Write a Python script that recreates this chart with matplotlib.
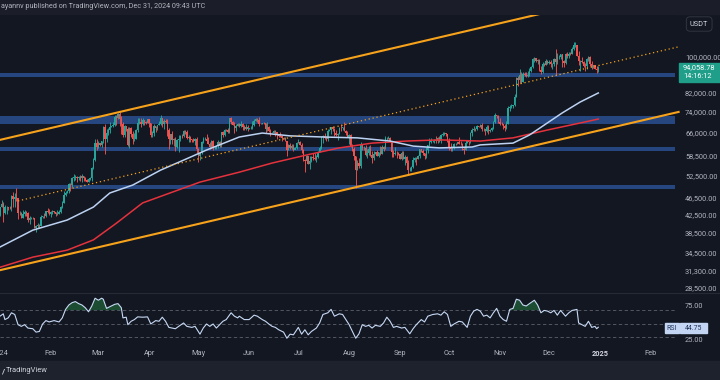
import numpy as np
import pandas as pd
import matplotlib
matplotlib.use('Agg')
import matplotlib.pyplot as plt
from matplotlib.patches import Rectangle
from matplotlib.lines import Line2D

plt.rcParams['font.family'] = ['Roboto', 'DejaVu Sans']

# BTC/USDT daily candles, 2024-01-01 .. 2024-12-31, thousands of USDT
first_open = 42.28
closes = [
    44.18, 44.94, 42.85, 44.15, 44.16, 43.97, 43.93, 46.94, 46.12, 46.63, 46.34, 42.78, 42.84, 41.73, 42.51, 43.15, 42.74, 41.26, 41.62, 41.66, 41.55, 39.51, 39.85, 40.08, 39.93, 41.82, 42.12, 42.03, 43.30, 42.94, 42.58,
    43.08, 43.19, 43.00, 42.58, 42.66, 43.08, 44.33, 45.29, 47.13, 47.75, 48.29, 49.96, 49.70, 51.79, 51.91, 52.13, 51.66, 52.12, 51.78, 52.26, 51.85, 51.30, 50.73, 51.57, 51.73, 54.48, 57.04, 62.43, 61.13,
    62.39, 62.03, 63.17, 68.33, 63.80, 66.11, 66.93, 68.30, 68.50, 69.02, 72.12, 71.48, 73.08, 71.40, 69.50, 65.30, 68.39, 67.61, 61.94, 67.84, 65.50, 63.80, 64.04, 67.21, 69.88, 69.99, 69.46, 70.78, 69.90, 69.65, 71.33,
    69.70, 65.46, 65.96, 68.49, 67.82, 68.90, 69.36, 71.62, 69.15, 70.62, 70.01, 67.12, 63.92, 65.66, 63.42, 63.81, 61.28, 63.51, 63.84, 64.99, 64.93, 66.84, 66.41, 64.28, 64.50, 63.77, 63.46, 63.12, 63.84, 60.64,
    58.25, 59.12, 62.89, 63.89, 64.03, 63.16, 62.33, 61.19, 63.07, 60.79, 60.83, 61.45, 62.94, 61.58, 66.27, 65.23, 67.05, 66.94, 66.28, 71.45, 70.14, 69.12, 67.93, 68.53, 69.28, 68.51, 69.39, 68.37, 67.64, 68.35, 67.49,
    67.76, 67.82, 68.80, 70.57, 71.08, 70.76, 69.34, 69.31, 69.65, 69.51, 67.32, 68.24, 66.76, 66.01, 66.19, 66.64, 66.49, 65.15, 64.96, 64.83, 64.10, 64.25, 63.18, 60.28, 61.81, 60.86, 61.68, 60.32, 60.89, 62.68,
    62.77, 62.02, 60.20, 57.04, 56.64, 58.23, 55.85, 56.71, 58.05, 57.72, 57.34, 57.88, 59.20, 60.80, 64.72, 65.04, 64.09, 63.97, 66.68, 67.14, 68.17, 67.55, 65.93, 65.37, 65.78, 67.91, 67.81, 68.25, 66.78, 66.19, 64.62,
    65.35, 61.50, 60.70, 58.16, 54.02, 56.04, 55.13, 61.70, 60.88, 60.95, 58.72, 59.35, 60.61, 58.74, 57.56, 58.87, 59.49, 58.43, 59.49, 59.01, 61.16, 60.38, 64.09, 64.18, 64.25, 62.83, 59.42, 59.03, 59.38, 59.12, 58.97,
    57.33, 59.13, 57.49, 57.97, 56.16, 53.96, 54.16, 54.87, 57.05, 57.64, 57.34, 58.13, 60.57, 60.00, 59.18, 58.19, 60.31, 61.76, 62.95, 63.20, 63.35, 63.58, 63.34, 64.26, 63.15, 65.17, 65.77, 65.87, 65.60, 63.33,
    60.80, 60.65, 60.75, 62.08, 62.05, 62.82, 62.22, 62.13, 60.58, 60.27, 62.45, 63.19, 62.85, 66.08, 67.04, 67.61, 67.38, 68.39, 68.36, 69.00, 67.37, 67.38, 66.68, 68.16, 66.64, 67.01, 67.93, 69.91, 72.73, 72.34, 70.22,
    69.50, 69.36, 68.73, 67.81, 69.36, 75.64, 75.90, 76.54, 76.68, 80.37, 88.70, 87.96, 90.59, 87.25, 91.07, 90.56, 89.85, 90.46, 92.31, 94.29, 98.32, 98.89, 97.67, 97.90, 93.01, 91.97, 95.95, 95.64, 97.46, 96.41,
    97.19, 95.87, 96.00, 98.77, 96.95, 99.74, 99.83, 101.11, 97.40, 96.59, 101.13, 100.00, 101.42, 101.37, 104.30, 106.06, 106.14, 100.20, 97.46, 97.76, 97.22, 95.10, 94.69, 98.68, 99.43, 95.80, 94.16, 95.16, 93.53, 92.64, 94.06,
]
highs = [
    44.18, 45.88, 45.50, 44.77, 44.34, 44.23, 44.49, 47.25, 47.90, 47.70, 48.97, 46.52, 43.26, 43.07, 43.40, 43.58, 43.20, 42.93, 42.20, 41.87, 41.89, 41.69, 40.13, 40.56, 40.28, 42.23, 42.20, 42.84, 43.31, 43.88, 43.74,
    43.29, 43.48, 43.38, 43.12, 43.49, 43.42, 44.38, 45.60, 48.20, 48.17, 48.59, 50.33, 50.37, 52.02, 52.82, 52.57, 52.20, 52.35, 52.48, 52.98, 52.37, 52.01, 51.55, 51.68, 51.95, 54.90, 57.59, 63.91, 63.75,
    63.23, 62.43, 63.23, 68.50, 69.17, 67.64, 67.99, 69.94, 68.60, 70.00, 72.91, 72.97, 73.65, 73.78, 72.36, 70.00, 68.92, 68.12, 68.11, 68.03, 68.24, 66.65, 65.99, 67.62, 71.73, 71.56, 71.74, 71.60, 70.92, 70.35, 71.38,
    71.29, 69.70, 66.90, 69.29, 68.73, 69.00, 70.29, 72.80, 71.76, 71.17, 71.23, 71.23, 67.93, 65.82, 66.87, 64.36, 64.48, 64.07, 65.45, 65.39, 65.70, 67.21, 67.20, 67.07, 65.27, 64.79, 63.92, 64.33, 64.22, 64.73,
    60.87, 59.60, 63.32, 64.49, 64.65, 65.50, 64.43, 62.99, 63.43, 63.47, 61.49, 61.82, 63.45, 63.12, 66.44, 66.70, 67.44, 67.40, 67.69, 71.52, 71.98, 70.62, 70.04, 69.22, 69.57, 69.56, 70.60, 69.56, 68.90, 69.50, 69.00,
    67.90, 68.44, 70.27, 71.06, 71.76, 71.63, 71.99, 69.56, 69.86, 70.20, 69.55, 70.00, 68.44, 67.30, 66.46, 66.99, 67.25, 66.48, 65.72, 66.48, 65.07, 64.53, 64.52, 63.37, 62.35, 62.48, 62.29, 62.20, 61.20, 63.00,
    63.80, 63.29, 62.50, 60.48, 57.50, 58.47, 58.24, 58.28, 58.30, 59.38, 59.35, 58.59, 59.83, 61.42, 64.88, 65.39, 66.11, 65.09, 67.39, 67.60, 68.36, 68.48, 67.80, 67.08, 66.11, 68.26, 69.40, 68.32, 70.08, 66.95, 66.81,
    65.59, 65.59, 62.19, 61.12, 58.29, 57.08, 57.80, 62.73, 61.75, 61.47, 61.86, 60.70, 61.58, 61.80, 59.85, 59.85, 59.69, 60.27, 59.62, 61.40, 61.83, 61.40, 64.95, 64.51, 65.00, 64.48, 63.21, 60.23, 61.17, 59.90, 59.46,
    59.05, 59.81, 59.82, 58.51, 58.32, 56.99, 54.85, 55.30, 58.04, 58.04, 57.99, 58.60, 60.65, 60.63, 60.38, 59.21, 61.32, 62.00, 64.13, 64.10, 63.56, 64.00, 64.80, 64.69, 64.82, 65.83, 66.50, 66.26, 66.08, 65.55,
    64.13, 62.39, 61.47, 62.47, 62.37, 63.00, 64.48, 63.17, 62.54, 61.32, 63.42, 63.48, 63.28, 66.50, 67.95, 68.42, 68.00, 68.97, 68.67, 69.40, 69.52, 67.84, 67.46, 68.85, 68.78, 67.45, 68.30, 70.27, 73.62, 72.93, 72.70,
    71.63, 69.93, 69.39, 69.49, 70.58, 76.40, 76.85, 77.20, 76.95, 81.50, 89.53, 89.96, 93.27, 91.77, 91.87, 91.78, 91.68, 92.59, 94.00, 94.90, 99.07, 99.59, 99.00, 98.72, 98.56, 94.82, 97.23, 96.65, 98.70, 97.80,
    97.90, 98.15, 96.56, 99.00, 103.90, 102.04, 100.55, 101.39, 101.23, 98.27, 101.89, 102.54, 102.65, 102.65, 105.25, 107.79, 108.35, 106.47, 102.80, 98.00, 99.54, 97.40, 96.42, 99.02, 99.96, 99.96, 97.29, 95.53, 95.20, 94.90, 94.70,
]
lows = [
    42.18, 44.15, 40.75, 42.63, 42.50, 43.40, 43.77, 43.20, 44.30, 44.30, 45.60, 41.50, 42.43, 41.72, 41.72, 42.05, 42.20, 40.68, 40.28, 41.43, 41.45, 39.44, 38.55, 39.49, 39.50, 39.82, 41.72, 41.62, 41.80, 42.70, 42.28,
    41.88, 42.57, 42.88, 42.22, 42.26, 42.57, 42.79, 44.03, 45.26, 46.82, 47.72, 47.72, 48.30, 49.26, 50.95, 51.29, 50.63, 51.16, 51.00, 50.62, 50.91, 50.88, 50.52, 50.60, 51.28, 50.90, 54.45, 56.70, 60.36,
    60.78, 61.58, 61.32, 62.39, 59.00, 62.88, 65.48, 66.10, 68.04, 68.28, 68.61, 68.77, 71.33, 68.56, 65.63, 64.55, 64.53, 66.60, 61.50, 60.78, 64.53, 62.26, 63.05, 63.79, 66.39, 69.24, 68.38, 68.90, 69.10, 69.33, 69.56,
    68.24, 64.49, 64.49, 65.07, 66.50, 67.25, 68.83, 69.04, 68.21, 67.52, 69.57, 65.09, 60.66, 62.26, 62.30, 61.64, 59.77, 60.80, 59.60, 63.10, 64.24, 64.50, 65.80, 63.88, 62.80, 63.00, 62.79, 62.80, 61.81, 59.19,
    56.55, 56.94, 58.81, 62.59, 63.45, 62.85, 62.25, 60.65, 60.89, 60.18, 60.49, 60.63, 60.76, 61.15, 61.32, 64.60, 65.10, 66.60, 65.85, 66.10, 69.16, 68.83, 66.10, 66.60, 68.50, 68.20, 68.23, 67.28, 67.08, 67.12, 66.66,
    67.42, 67.30, 67.61, 68.50, 70.41, 70.13, 68.50, 69.20, 69.15, 69.20, 66.05, 66.90, 66.30, 65.08, 65.89, 66.04, 65.10, 64.06, 64.70, 64.55, 63.38, 63.94, 63.17, 58.40, 60.25, 60.60, 60.63, 60.00, 60.38, 60.60,
    62.45, 61.80, 59.37, 56.77, 53.49, 56.01, 55.73, 54.26, 56.28, 57.17, 56.98, 56.51, 57.73, 59.50, 60.63, 62.43, 63.83, 63.22, 63.30, 66.66, 65.77, 66.57, 65.12, 65.09, 63.45, 65.76, 66.65, 67.03, 66.62, 65.30, 64.50,
    62.30, 61.13, 59.80, 57.12, 49.00, 54.08, 54.55, 54.71, 60.30, 60.26, 58.40, 57.63, 58.46, 58.44, 56.08, 57.10, 58.79, 58.42, 57.85, 58.59, 58.79, 60.03, 60.38, 63.57, 63.78, 62.80, 58.03, 57.86, 58.70, 57.75, 58.75,
    57.20, 57.12, 57.41, 55.61, 55.56, 52.55, 53.74, 53.62, 54.60, 56.38, 55.55, 57.33, 57.63, 59.45, 58.74, 57.49, 57.61, 59.17, 61.67, 62.37, 62.77, 62.37, 62.69, 62.70, 62.96, 62.68, 64.84, 65.43, 65.10, 62.85,
    60.16, 60.00, 59.83, 60.46, 61.70, 62.10, 62.12, 61.84, 60.24, 58.89, 60.07, 62.44, 62.02, 62.42, 64.80, 66.75, 66.71, 67.08, 68.11, 68.16, 66.80, 66.57, 65.26, 66.48, 65.51, 66.50, 66.85, 67.60, 69.73, 71.44, 69.68,
    68.82, 68.80, 67.46, 66.84, 67.46, 69.32, 74.44, 75.56, 75.75, 76.50, 80.28, 85.07, 86.63, 86.67, 87.15, 90.03, 89.40, 89.38, 90.06, 91.76, 94.08, 97.20, 97.12, 95.73, 92.60, 90.79, 91.52, 94.66, 95.45, 95.70,
    95.70, 94.31, 93.58, 94.66, 90.50, 95.70, 98.80, 98.63, 94.15, 94.26, 95.78, 99.31, 99.21, 100.75, 101.23, 103.33, 105.31, 100.00, 95.67, 92.17, 96.40, 94.20, 92.50, 93.40, 97.59, 95.14, 93.50, 94.00, 93.28, 91.38, 92.00,
]

# moving averages (day since 2024-01-01, thousands)
ma100_day = [0, 20, 41, 57, 67, 81, 98, 112, 126, 146, 160, 177, 197, 218, 238, 252, 268, 288, 293, 313, 323, 343, 354, 365]
ma100_val = [35.6, 39.0, 41.2, 44.2, 47.7, 49.8, 54.0, 57.0, 60.2, 64.6, 66.0, 65.0, 64.6, 64.3, 63.2, 61.5, 60.9, 61.2, 61.9, 62.5, 65.3, 73.6, 78.1, 82.0]
ma200_day = [0, 20, 41, 57, 71, 87, 105, 122, 146, 166, 187, 207, 227, 248, 268, 293, 313, 334, 354, 365]
ma200_val = [31.9, 33.7, 35.0, 37.0, 40.5, 45.2, 47.9, 50.6, 53.4, 56.1, 58.6, 60.9, 62.5, 63.2, 63.6, 63.2, 64.3, 67.1, 69.7, 71.2]

# ascending channel
upper_day, upper_val = [0, 412], [63.6, 149.3]
lower_day, lower_val = [0, 414], [31.4, 74.0]
mid_day, mid_val = [11, 414], [45.7, 105.3]

# support / resistance zones (thousands)
zone_lo = [89.4, 69.5, 59.9, 48.8]
zone_hi = [91.5, 72.5, 61.2, 49.8]

# RSI
rsi_day = [0, 2, 3, 5, 7, 9, 11, 13, 15, 17, 20, 22, 24, 26, 28, 30, 33, 36, 38, 40,
           42, 44, 46, 48, 50, 52, 54, 56, 58, 60, 62, 63, 65, 67, 70, 72, 74, 75, 77, 78,
           80, 82, 84, 87, 90, 92, 95, 97, 99, 101, 103, 105, 107, 109, 112, 114, 117, 119, 122, 124,
           126, 128, 130, 132, 134, 136, 138, 141, 143, 145,
           146, 149, 152, 155, 157, 160, 162, 164, 166, 168, 170, 173, 175, 177, 179, 182, 184, 186, 188, 190,
           193, 195, 197, 200, 202, 204, 207, 209, 211, 213, 215, 217, 219, 221, 223, 225, 227, 229, 232, 234,
           236, 238, 240, 242, 245, 247, 250, 252, 254, 257, 259, 261, 264, 267, 269, 271, 273, 275, 277, 280,
           282, 285, 287, 289, 291,
           293, 295, 297, 299, 301, 303, 305, 307, 309, 311, 313, 315, 317, 319, 321, 323, 326, 328, 330, 332,
           334, 336, 338, 340, 342, 345, 347, 349, 352, 353, 355, 357, 359, 361, 363, 364, 365]
rsi_val = [61, 64.5, 56, 58.5, 66, 63.5, 48.5, 46, 48.5, 43.5, 42.5, 37.5, 38.5, 49.5, 54.5, 52.5, 54.5, 52.5, 58.5, 71,
           77.5, 81, 82.5, 79.5, 77.5, 73.5, 67.5, 76, 87.5, 84.5, 87.5, 86, 72.5, 75, 78.5, 79.5, 73.5, 58.5, 59.5, 48.5,
           53.5, 56, 60, 59.5, 60, 49.5, 54.5, 53.5, 59.5, 53.5, 44.5, 43.5, 42.5, 46, 51, 46, 44.5, 46, 34.5, 43.5,
           49.5, 46, 49.5, 43.5, 48.5, 53.5, 56, 66, 61, 58.5,
           61, 56, 56, 62.5, 61, 56, 53.5, 49.5, 46, 44.5, 41, 37.5, 28.5, 34.5, 33.5, 44.5, 34.5, 41, 33.5, 38.5,
           43.5, 51, 63.5, 66, 71, 61, 64.5, 63.5, 56, 48.5, 38.5, 28.5, 35, 48.5, 46, 47.5, 43.5, 47.5, 46, 51,
           59.5, 53.5, 44.5, 46, 43.5, 44.5, 35, 42.5, 48.5, 56, 52.5, 61, 63.5, 64.5, 62.5, 67.5, 63.5, 46, 49.5, 53.5,
           52.5, 44.5, 61, 68.5, 71,
           68.5, 61, 62.5, 58.5, 66, 72.5, 61, 56, 53.5, 71, 72.5, 86, 84.5, 77.5, 76, 79.5, 84.5, 77.5, 66, 69.5,
           68.5, 66, 69.5, 62.5, 69.5, 61, 66, 69.5, 71, 51, 48.5, 46, 53.5, 44.5, 46, 42.5, 44.75]

price_ticks = [100000, 82000, 74000, 66000, 58500, 52500, 46500, 42500, 38500, 34500, 31300, 28500]
month_labels = ['2024', 'Feb', 'Mar', 'Apr', 'May', 'Jun', 'Jul', 'Aug', 'Sep', 'Oct', 'Nov', 'Dec', '2025', 'Feb']

BG = '#131722'
TXT = '#b2b5be'
W, H = 720, 380


def box(x0, y0, x1, y1):
    return [x0 / W, 1 - y1 / H, (x1 - x0) / W, (y1 - y0) / H]


def fx(x):
    return x / W


def fy(y):
    return 1 - y / H


fig = plt.figure(figsize=(7.2, 3.8), dpi=100, facecolor=BG)

# header and footer strips
fig.add_artist(Rectangle((0, fy(14)), 1, 14 / H, transform=fig.transFigure, color='#1b1e28', zorder=0))
fig.add_artist(Rectangle((0, 0), 1, 19 / H, transform=fig.transFigure, color='#1e222d', zorder=0))
fig.text(fx(1), fy(7), 'ayannv published on TradingView.com, Dec 31, 2024 09:43 UTC',
         fontsize=5.2, color=TXT, va='center', ha='left')
fig.text(fx(1), fy(371), '/', fontsize=6, color='#d1d4dc', va='center', weight='bold')
fig.text(fx(6), fy(371), 'TradingView', fontsize=5.4, color='#d1d4dc', va='center')

ax = fig.add_axes(box(0, 15, 675, 292))
ax2 = fig.add_axes(box(0, 294, 675, 344), sharex=ax)
for a in (ax, ax2):
    a.set_facecolor(BG)
    for s in a.spines.values():
        s.set_visible(False)

fig.add_artist(Line2D([0, 1], [fy(293), fy(293)], transform=fig.transFigure, color='#262a36', lw=0.8))

# ---- price pane
c = np.array(closes) * 1000
o = np.array([first_open] + closes[:-1]) * 1000
hi = np.array(highs) * 1000
lo = np.array(lows) * 1000
days = np.arange(len(c))
col = np.where(c >= o, '#26a69a', '#ef5350')

for zl, zh in zip(zone_lo, zone_hi):
    ax.axhspan(zl * 1000, zh * 1000, color='#26467f', lw=0, zorder=1)

ax.vlines(days, lo, hi, colors=col, lw=0.65, zorder=3)
ax.bar(days, np.abs(c - o), bottom=np.minimum(o, c), width=0.82, color=col, lw=0, zorder=3)

ax.plot(ma200_day, np.array(ma200_val) * 1000, color='#e5323c', lw=1.1, zorder=4)
ax.plot(ma100_day, np.array(ma100_val) * 1000, color='#bcd2f2', lw=1.1, zorder=4)

ax.plot(upper_day, np.array(upper_val) * 1000, color='#f7a21b', lw=1.5, zorder=5)
ax.plot(lower_day, np.array(lower_val) * 1000, color='#f7a21b', lw=1.5, zorder=5, clip_on=False)
ax.plot(mid_day, np.array(mid_val) * 1000, color='#f7a21b', lw=0.9, ls=(0, (1, 2.2)), zorder=5, clip_on=False)

ax.set_yscale('log')
ax.set_ylim(27900, 125100)
ax.set_xlim(0, 411.8)
ax.set_yticks(price_ticks)
ax.set_yticks([], minor=True)
ax.set_yticklabels([f'{t:,.2f}' for t in price_ticks])
ax.yaxis.tick_right()
ax.tick_params(axis='y', length=0, pad=7.2, labelsize=5.3, labelcolor=TXT)
ax.tick_params(axis='x', length=0, labelbottom=False)

# ---- rsi pane
rd = np.array(rsi_day)
rv = np.array(rsi_val)
for lvl in (70, 50, 30):
    ax2.axhline(lvl, color='#5d606b', lw=0.6, ls=(0, (4, 3)), zorder=1)
ax2.fill_between(rd, rv, 70, where=rv > 70, interpolate=True, color='#1f5a35', alpha=0.8, lw=0, zorder=2)
ax2.plot(rd, rv, color='#c7d9f5', lw=0.8, zorder=3)
ax2.set_ylim(20, 93.7)
ax2.set_yticks([])

month_days = (pd.date_range('2024-01-01', '2025-02-01', freq='MS') - pd.Timestamp('2024-01-01')).days
ax2.set_xticks(month_days)
ax2.set_xticklabels(month_labels)
ax2.tick_params(axis='x', length=0, pad=4.5, labelsize=5.3, labelcolor=TXT)
for t in ax2.get_xticklabels():
    if t.get_text() == '2025':
        t.set_fontweight('bold')
        t.set_color('#d1d4dc')

fig.text(fx(685), fy(307), '75.00', fontsize=5.3, color=TXT, va='center')
fig.text(fx(685), fy(341), '25.00', fontsize=5.3, color=TXT, va='center')

# ---- right scale badges
fig.text(fx(690), fy(24), 'USDT', fontsize=5.3, color='#d1d4dc', va='center',
         bbox=dict(boxstyle='round,pad=0.5', fc=BG, ec='#363a45', lw=0.6))
fig.add_artist(Rectangle((fx(679), fy(82)), 41 / W, 19 / H, transform=fig.transFigure, color='#1f9e89'))
fig.text(fx(683), fy(68), '94,058.78', fontsize=5.3, color='white', va='center')
fig.text(fx(683), fy(77), '14:16:12', fontsize=5.3, color='white', va='center')

fig.add_artist(Rectangle((fx(665), fy(333)), 14 / W, 10 / H, transform=fig.transFigure, color='#c3d5f2'))
fig.add_artist(Rectangle((fx(680), fy(333)), 27 / W, 10 / H, transform=fig.transFigure, color='#c3d5f2'))
fig.text(fx(672), fy(328), 'RSI', fontsize=5, color='#24365a', va='center', ha='center')
fig.text(fx(693.5), fy(328), '44.75', fontsize=5, color='#24365a', va='center', ha='center')

fig.savefig('out.png', dpi=100, facecolor=BG)
